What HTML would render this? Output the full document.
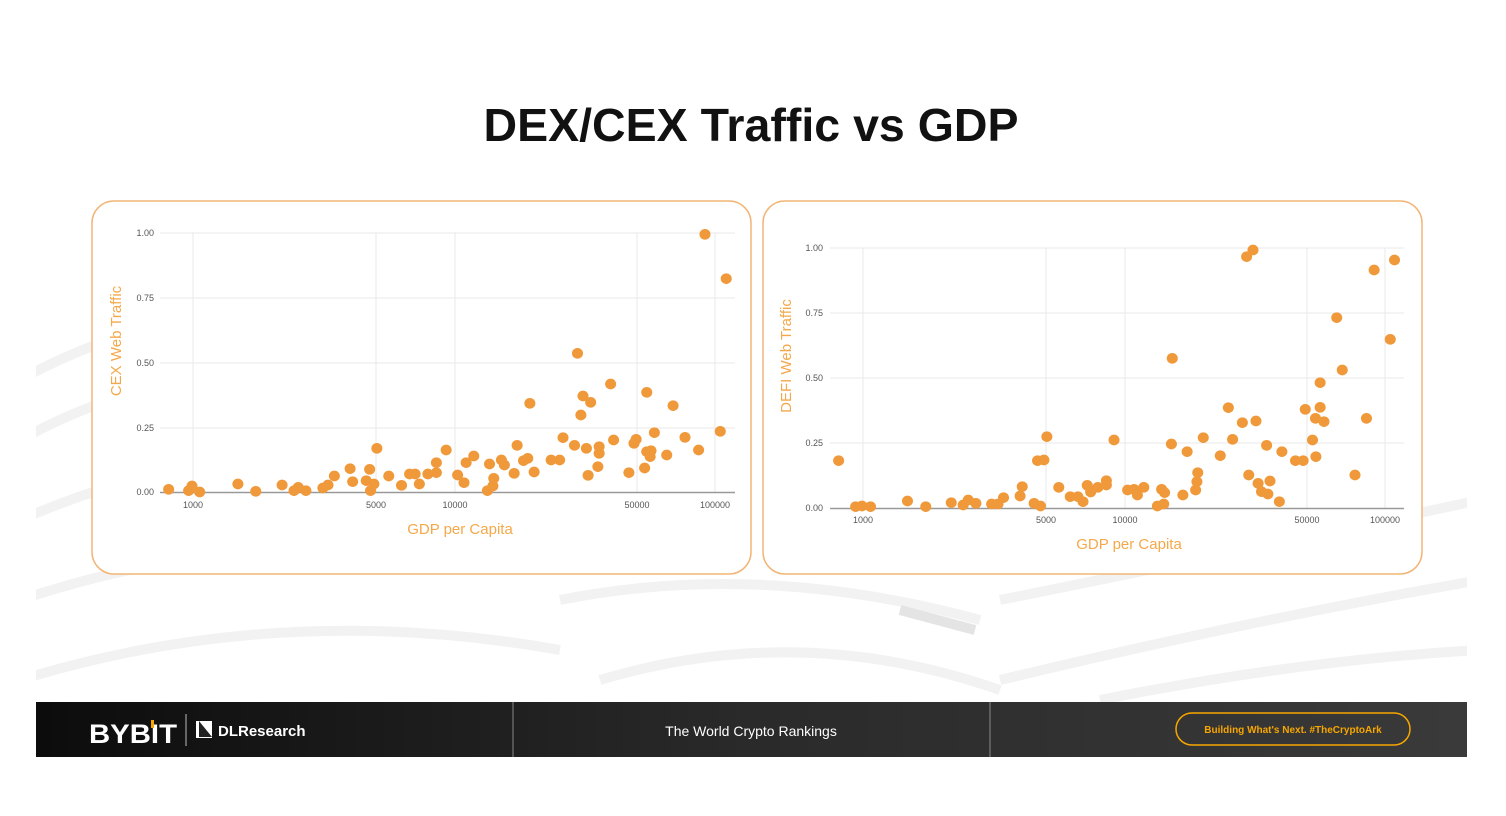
<!DOCTYPE html>
<html><head><meta charset="utf-8"><style>
html,body{margin:0;padding:0;background:#fff;}
svg{display:block;font-family:"Liberation Sans",sans-serif;}
</style></head><body>
<svg width="1506" height="816" viewBox="0 0 1506 816" xmlns="http://www.w3.org/2000/svg">
<defs>
<linearGradient id="fg" x1="0" x2="1" y1="0" y2="0"><stop offset="0" stop-color="#0c0c0c"/><stop offset="0.5" stop-color="#2a2a2a"/><stop offset="1" stop-color="#3a3a3a"/></linearGradient>
<clipPath id="bgc"><rect x="36" y="260" width="1431" height="445"/></clipPath>
</defs>
<rect width="1506" height="816" fill="#fff"/>
<g clip-path="url(#bgc)" stroke="#f2f2f2" stroke-width="10" fill="none">
<path d="M20 380 Q200 280 400 330"/><path d="M20 440 Q220 330 440 400"/><path d="M20 520 Q250 420 480 470"/><path d="M20 600 Q260 520 520 560"/><path d="M20 680 Q280 600 560 650"/>
<path d="M560 600 Q760 560 980 620"/><path d="M600 680 Q800 620 1000 690"/><path d="M900 610 L975 630" stroke="#e4e4e4"/>
<path d="M1000 600 Q1200 560 1480 500"/><path d="M1000 680 Q1250 620 1480 580"/><path d="M1100 700 Q1300 660 1480 650"/>
</g>
<text x="751" y="141" text-anchor="middle" font-size="46" font-weight="bold" fill="#111" textLength="535" lengthAdjust="spacingAndGlyphs">DEX/CEX Traffic vs GDP</text>

<!-- LEFT CARD -->
<rect x="92" y="201" width="659" height="373" rx="22" fill="#fff" stroke="#f2b577" stroke-width="1.5"/>
<g stroke="#e8e8e8" stroke-width="1">
<line x1="160" x2="735" y1="233" y2="233"/><line x1="160" x2="735" y1="298" y2="298"/><line x1="160" x2="735" y1="363" y2="363"/><line x1="160" x2="735" y1="428" y2="428"/>
<line x1="193" x2="193" y1="233" y2="492"/><line x1="376" x2="376" y1="233" y2="492"/><line x1="455" x2="455" y1="233" y2="492"/><line x1="637" x2="637" y1="233" y2="492"/><line x1="715" x2="715" y1="233" y2="492"/>
</g>
<line x1="160" x2="735" y1="492.5" y2="492.5" stroke="#999" stroke-width="1.5"/>
<g font-size="9" fill="#555" text-anchor="end">
<text x="154" y="236">1.00</text><text x="154" y="301">0.75</text><text x="154" y="366">0.50</text><text x="154" y="431">0.25</text><text x="154" y="495">0.00</text>
</g>
<g font-size="9" fill="#555" text-anchor="middle">
<text x="193" y="508">1000</text><text x="376" y="508">5000</text><text x="455" y="508">10000</text><text x="637" y="508">50000</text><text x="715" y="508">100000</text>
</g>
<text x="460" y="534" text-anchor="middle" font-size="15" fill="#f5a84a">GDP per Capita</text>
<text transform="translate(121,341) rotate(-90)" text-anchor="middle" font-size="15" fill="#f5a84a">CEX Web Traffic</text>
<g transform="translate(90,200) scale(0.425,0.33333)" fill="#f0993a">
<ellipse cx="185" cy="868" rx="13" ry="16"/><ellipse cx="240" cy="858" rx="13" ry="16"/><ellipse cx="232" cy="872" rx="13" ry="16"/><ellipse cx="258" cy="876" rx="13" ry="16"/><ellipse cx="348" cy="852" rx="13" ry="16"/><ellipse cx="390" cy="874" rx="13" ry="16"/><ellipse cx="452" cy="855" rx="13" ry="16"/><ellipse cx="490" cy="862" rx="13" ry="16"/><ellipse cx="480" cy="872" rx="13" ry="16"/><ellipse cx="508" cy="872" rx="13" ry="16"/><ellipse cx="548" cy="864" rx="13" ry="16"/><ellipse cx="560" cy="855" rx="13" ry="16"/><ellipse cx="575" cy="828" rx="13" ry="16"/><ellipse cx="612" cy="806" rx="13" ry="16"/><ellipse cx="618" cy="845" rx="13" ry="16"/><ellipse cx="658" cy="808" rx="13" ry="16"/><ellipse cx="650" cy="842" rx="13" ry="16"/><ellipse cx="668" cy="852" rx="13" ry="16"/><ellipse cx="660" cy="872" rx="13" ry="16"/><ellipse cx="675" cy="745" rx="13" ry="16"/><ellipse cx="703" cy="828" rx="13" ry="16"/><ellipse cx="733" cy="856" rx="13" ry="16"/><ellipse cx="752" cy="822" rx="13" ry="16"/><ellipse cx="765" cy="822" rx="13" ry="16"/><ellipse cx="775" cy="852" rx="13" ry="16"/><ellipse cx="795" cy="822" rx="13" ry="16"/><ellipse cx="815" cy="788" rx="13" ry="16"/><ellipse cx="815" cy="818" rx="13" ry="16"/><ellipse cx="838" cy="750" rx="13" ry="16"/><ellipse cx="865" cy="825" rx="13" ry="16"/><ellipse cx="880" cy="848" rx="13" ry="16"/><ellipse cx="885" cy="788" rx="13" ry="16"/><ellipse cx="903" cy="768" rx="13" ry="16"/><ellipse cx="940" cy="792" rx="13" ry="16"/><ellipse cx="935" cy="872" rx="13" ry="16"/><ellipse cx="948" cy="858" rx="13" ry="16"/><ellipse cx="950" cy="835" rx="13" ry="16"/><ellipse cx="968" cy="780" rx="13" ry="16"/><ellipse cx="975" cy="795" rx="13" ry="16"/><ellipse cx="998" cy="820" rx="13" ry="16"/><ellipse cx="1005" cy="736" rx="13" ry="16"/><ellipse cx="1030" cy="775" rx="13" ry="16"/><ellipse cx="1020" cy="782" rx="13" ry="16"/><ellipse cx="1045" cy="816" rx="13" ry="16"/><ellipse cx="1035" cy="610" rx="13" ry="16"/><ellipse cx="1085" cy="780" rx="13" ry="16"/><ellipse cx="1105" cy="780" rx="13" ry="16"/><ellipse cx="1113" cy="713" rx="13" ry="16"/><ellipse cx="1140" cy="736" rx="13" ry="16"/><ellipse cx="1147" cy="460" rx="13" ry="16"/><ellipse cx="1155" cy="645" rx="13" ry="16"/><ellipse cx="1160" cy="588" rx="13" ry="16"/><ellipse cx="1178" cy="607" rx="13" ry="16"/><ellipse cx="1168" cy="745" rx="13" ry="16"/><ellipse cx="1172" cy="826" rx="13" ry="16"/><ellipse cx="1195" cy="800" rx="13" ry="16"/><ellipse cx="1198" cy="740" rx="13" ry="16"/><ellipse cx="1198" cy="760" rx="13" ry="16"/><ellipse cx="1225" cy="552" rx="13" ry="16"/><ellipse cx="1232" cy="720" rx="13" ry="16"/><ellipse cx="1268" cy="818" rx="13" ry="16"/><ellipse cx="1280" cy="730" rx="13" ry="16"/><ellipse cx="1285" cy="718" rx="13" ry="16"/><ellipse cx="1305" cy="804" rx="13" ry="16"/><ellipse cx="1310" cy="577" rx="13" ry="16"/><ellipse cx="1310" cy="755" rx="13" ry="16"/><ellipse cx="1320" cy="752" rx="13" ry="16"/><ellipse cx="1318" cy="770" rx="13" ry="16"/><ellipse cx="1328" cy="698" rx="13" ry="16"/><ellipse cx="1357" cy="765" rx="13" ry="16"/><ellipse cx="1372" cy="617" rx="13" ry="16"/><ellipse cx="1400" cy="712" rx="13" ry="16"/><ellipse cx="1432" cy="750" rx="13" ry="16"/><ellipse cx="1447" cy="103" rx="13" ry="16"/><ellipse cx="1483" cy="694" rx="13" ry="16"/><ellipse cx="1497" cy="236" rx="13" ry="16"/>
</g>

<!-- RIGHT CARD -->
<rect x="763" y="201" width="659" height="373" rx="22" fill="#fff" stroke="#f2b577" stroke-width="1.5"/>
<g stroke="#e8e8e8" stroke-width="1">
<line x1="830" x2="1404" y1="248" y2="248"/><line x1="830" x2="1404" y1="313" y2="313"/><line x1="830" x2="1404" y1="378" y2="378"/><line x1="830" x2="1404" y1="443" y2="443"/>
<line x1="863" x2="863" y1="248" y2="508"/><line x1="1046" x2="1046" y1="248" y2="508"/><line x1="1125" x2="1125" y1="248" y2="508"/><line x1="1307" x2="1307" y1="248" y2="508"/><line x1="1385" x2="1385" y1="248" y2="508"/>
</g>
<line x1="830" x2="1404" y1="508.5" y2="508.5" stroke="#999" stroke-width="1.5"/>
<g font-size="9" fill="#555" text-anchor="end">
<text x="823" y="251">1.00</text><text x="823" y="316">0.75</text><text x="823" y="381">0.50</text><text x="823" y="446">0.25</text><text x="823" y="511">0.00</text>
</g>
<g font-size="9" fill="#555" text-anchor="middle">
<text x="863" y="523">1000</text><text x="1046" y="523">5000</text><text x="1125" y="523">10000</text><text x="1307" y="523">50000</text><text x="1385" y="523">100000</text>
</g>
<text x="1129" y="549" text-anchor="middle" font-size="15" fill="#f5a84a">GDP per Capita</text>
<text transform="translate(791,356) rotate(-90)" text-anchor="middle" font-size="15" fill="#f5a84a">DEFI Web Traffic</text>
<g transform="translate(760,200) scale(0.425,0.33333)" fill="#f0993a">
<ellipse cx="185" cy="782" rx="13" ry="16"/><ellipse cx="225" cy="920" rx="13" ry="16"/><ellipse cx="240" cy="918" rx="13" ry="16"/><ellipse cx="260" cy="920" rx="13" ry="16"/><ellipse cx="347" cy="903" rx="13" ry="16"/><ellipse cx="390" cy="920" rx="13" ry="16"/><ellipse cx="450" cy="908" rx="13" ry="16"/><ellipse cx="478" cy="915" rx="13" ry="16"/><ellipse cx="490" cy="900" rx="13" ry="16"/><ellipse cx="508" cy="910" rx="13" ry="16"/><ellipse cx="545" cy="912" rx="13" ry="16"/><ellipse cx="560" cy="912" rx="13" ry="16"/><ellipse cx="573" cy="893" rx="13" ry="16"/><ellipse cx="612" cy="888" rx="13" ry="16"/><ellipse cx="617" cy="860" rx="13" ry="16"/><ellipse cx="645" cy="910" rx="13" ry="16"/><ellipse cx="660" cy="918" rx="13" ry="16"/><ellipse cx="653" cy="782" rx="13" ry="16"/><ellipse cx="668" cy="780" rx="13" ry="16"/><ellipse cx="675" cy="710" rx="13" ry="16"/><ellipse cx="703" cy="862" rx="13" ry="16"/><ellipse cx="730" cy="890" rx="13" ry="16"/><ellipse cx="748" cy="890" rx="13" ry="16"/><ellipse cx="760" cy="905" rx="13" ry="16"/><ellipse cx="770" cy="856" rx="13" ry="16"/><ellipse cx="778" cy="876" rx="13" ry="16"/><ellipse cx="795" cy="862" rx="13" ry="16"/><ellipse cx="815" cy="842" rx="13" ry="16"/><ellipse cx="815" cy="855" rx="13" ry="16"/><ellipse cx="833" cy="720" rx="13" ry="16"/><ellipse cx="865" cy="870" rx="13" ry="16"/><ellipse cx="880" cy="868" rx="13" ry="16"/><ellipse cx="888" cy="885" rx="13" ry="16"/><ellipse cx="903" cy="862" rx="13" ry="16"/><ellipse cx="935" cy="918" rx="13" ry="16"/><ellipse cx="945" cy="868" rx="13" ry="16"/><ellipse cx="952" cy="878" rx="13" ry="16"/><ellipse cx="950" cy="912" rx="13" ry="16"/><ellipse cx="970" cy="475" rx="13" ry="16"/><ellipse cx="968" cy="732" rx="13" ry="16"/><ellipse cx="995" cy="885" rx="13" ry="16"/><ellipse cx="1005" cy="755" rx="13" ry="16"/><ellipse cx="1025" cy="870" rx="13" ry="16"/><ellipse cx="1028" cy="845" rx="13" ry="16"/><ellipse cx="1030" cy="818" rx="13" ry="16"/><ellipse cx="1043" cy="713" rx="13" ry="16"/><ellipse cx="1083" cy="767" rx="13" ry="16"/><ellipse cx="1102" cy="623" rx="13" ry="16"/><ellipse cx="1112" cy="718" rx="13" ry="16"/><ellipse cx="1135" cy="668" rx="13" ry="16"/><ellipse cx="1145" cy="170" rx="13" ry="16"/><ellipse cx="1160" cy="150" rx="13" ry="16"/><ellipse cx="1150" cy="825" rx="13" ry="16"/><ellipse cx="1167" cy="663" rx="13" ry="16"/><ellipse cx="1172" cy="850" rx="13" ry="16"/><ellipse cx="1180" cy="875" rx="13" ry="16"/><ellipse cx="1195" cy="882" rx="13" ry="16"/><ellipse cx="1192" cy="736" rx="13" ry="16"/><ellipse cx="1200" cy="843" rx="13" ry="16"/><ellipse cx="1222" cy="905" rx="13" ry="16"/><ellipse cx="1228" cy="755" rx="13" ry="16"/><ellipse cx="1260" cy="782" rx="13" ry="16"/><ellipse cx="1278" cy="782" rx="13" ry="16"/><ellipse cx="1283" cy="628" rx="13" ry="16"/><ellipse cx="1300" cy="720" rx="13" ry="16"/><ellipse cx="1307" cy="655" rx="13" ry="16"/><ellipse cx="1308" cy="770" rx="13" ry="16"/><ellipse cx="1318" cy="548" rx="13" ry="16"/><ellipse cx="1318" cy="622" rx="13" ry="16"/><ellipse cx="1327" cy="665" rx="13" ry="16"/><ellipse cx="1357" cy="353" rx="13" ry="16"/><ellipse cx="1370" cy="510" rx="13" ry="16"/><ellipse cx="1400" cy="825" rx="13" ry="16"/><ellipse cx="1427" cy="655" rx="13" ry="16"/><ellipse cx="1445" cy="210" rx="13" ry="16"/><ellipse cx="1483" cy="418" rx="13" ry="16"/><ellipse cx="1493" cy="180" rx="13" ry="16"/>
</g>

<!-- FOOTER -->
<rect x="36" y="702" width="1431" height="55" fill="url(#fg)"/>
<line x1="513" x2="513" y1="702" y2="757" stroke="#888" stroke-width="1"/>
<line x1="990" x2="990" y1="702" y2="757" stroke="#888" stroke-width="1"/>
<text x="89" y="743" font-size="27" font-weight="bold" fill="#fff" textLength="88" lengthAdjust="spacingAndGlyphs">BYBIT</text>
<rect x="151" y="720" width="3" height="8" fill="#f7a600"/>
<line x1="186" x2="186" y1="714" y2="746" stroke="#bbb" stroke-width="1"/>
<polygon points="196,721 212,721 212,738 196,738" fill="#fff"/>
<polygon points="199,721 212,737 199,737" fill="#222"/>
<text x="218" y="736" font-size="15" font-weight="bold" fill="#fff">DLResearch</text>
<text x="751" y="736" text-anchor="middle" font-size="14" fill="#fff">The World Crypto Rankings</text>
<rect x="1176" y="713" width="234" height="32" rx="16" fill="none" stroke="#f7a600" stroke-width="1.5"/>
<text x="1293" y="733" text-anchor="middle" font-size="10" font-weight="bold" fill="#f7a600">Building What's Next. #TheCryptoArk</text>
</svg>
</body></html>
